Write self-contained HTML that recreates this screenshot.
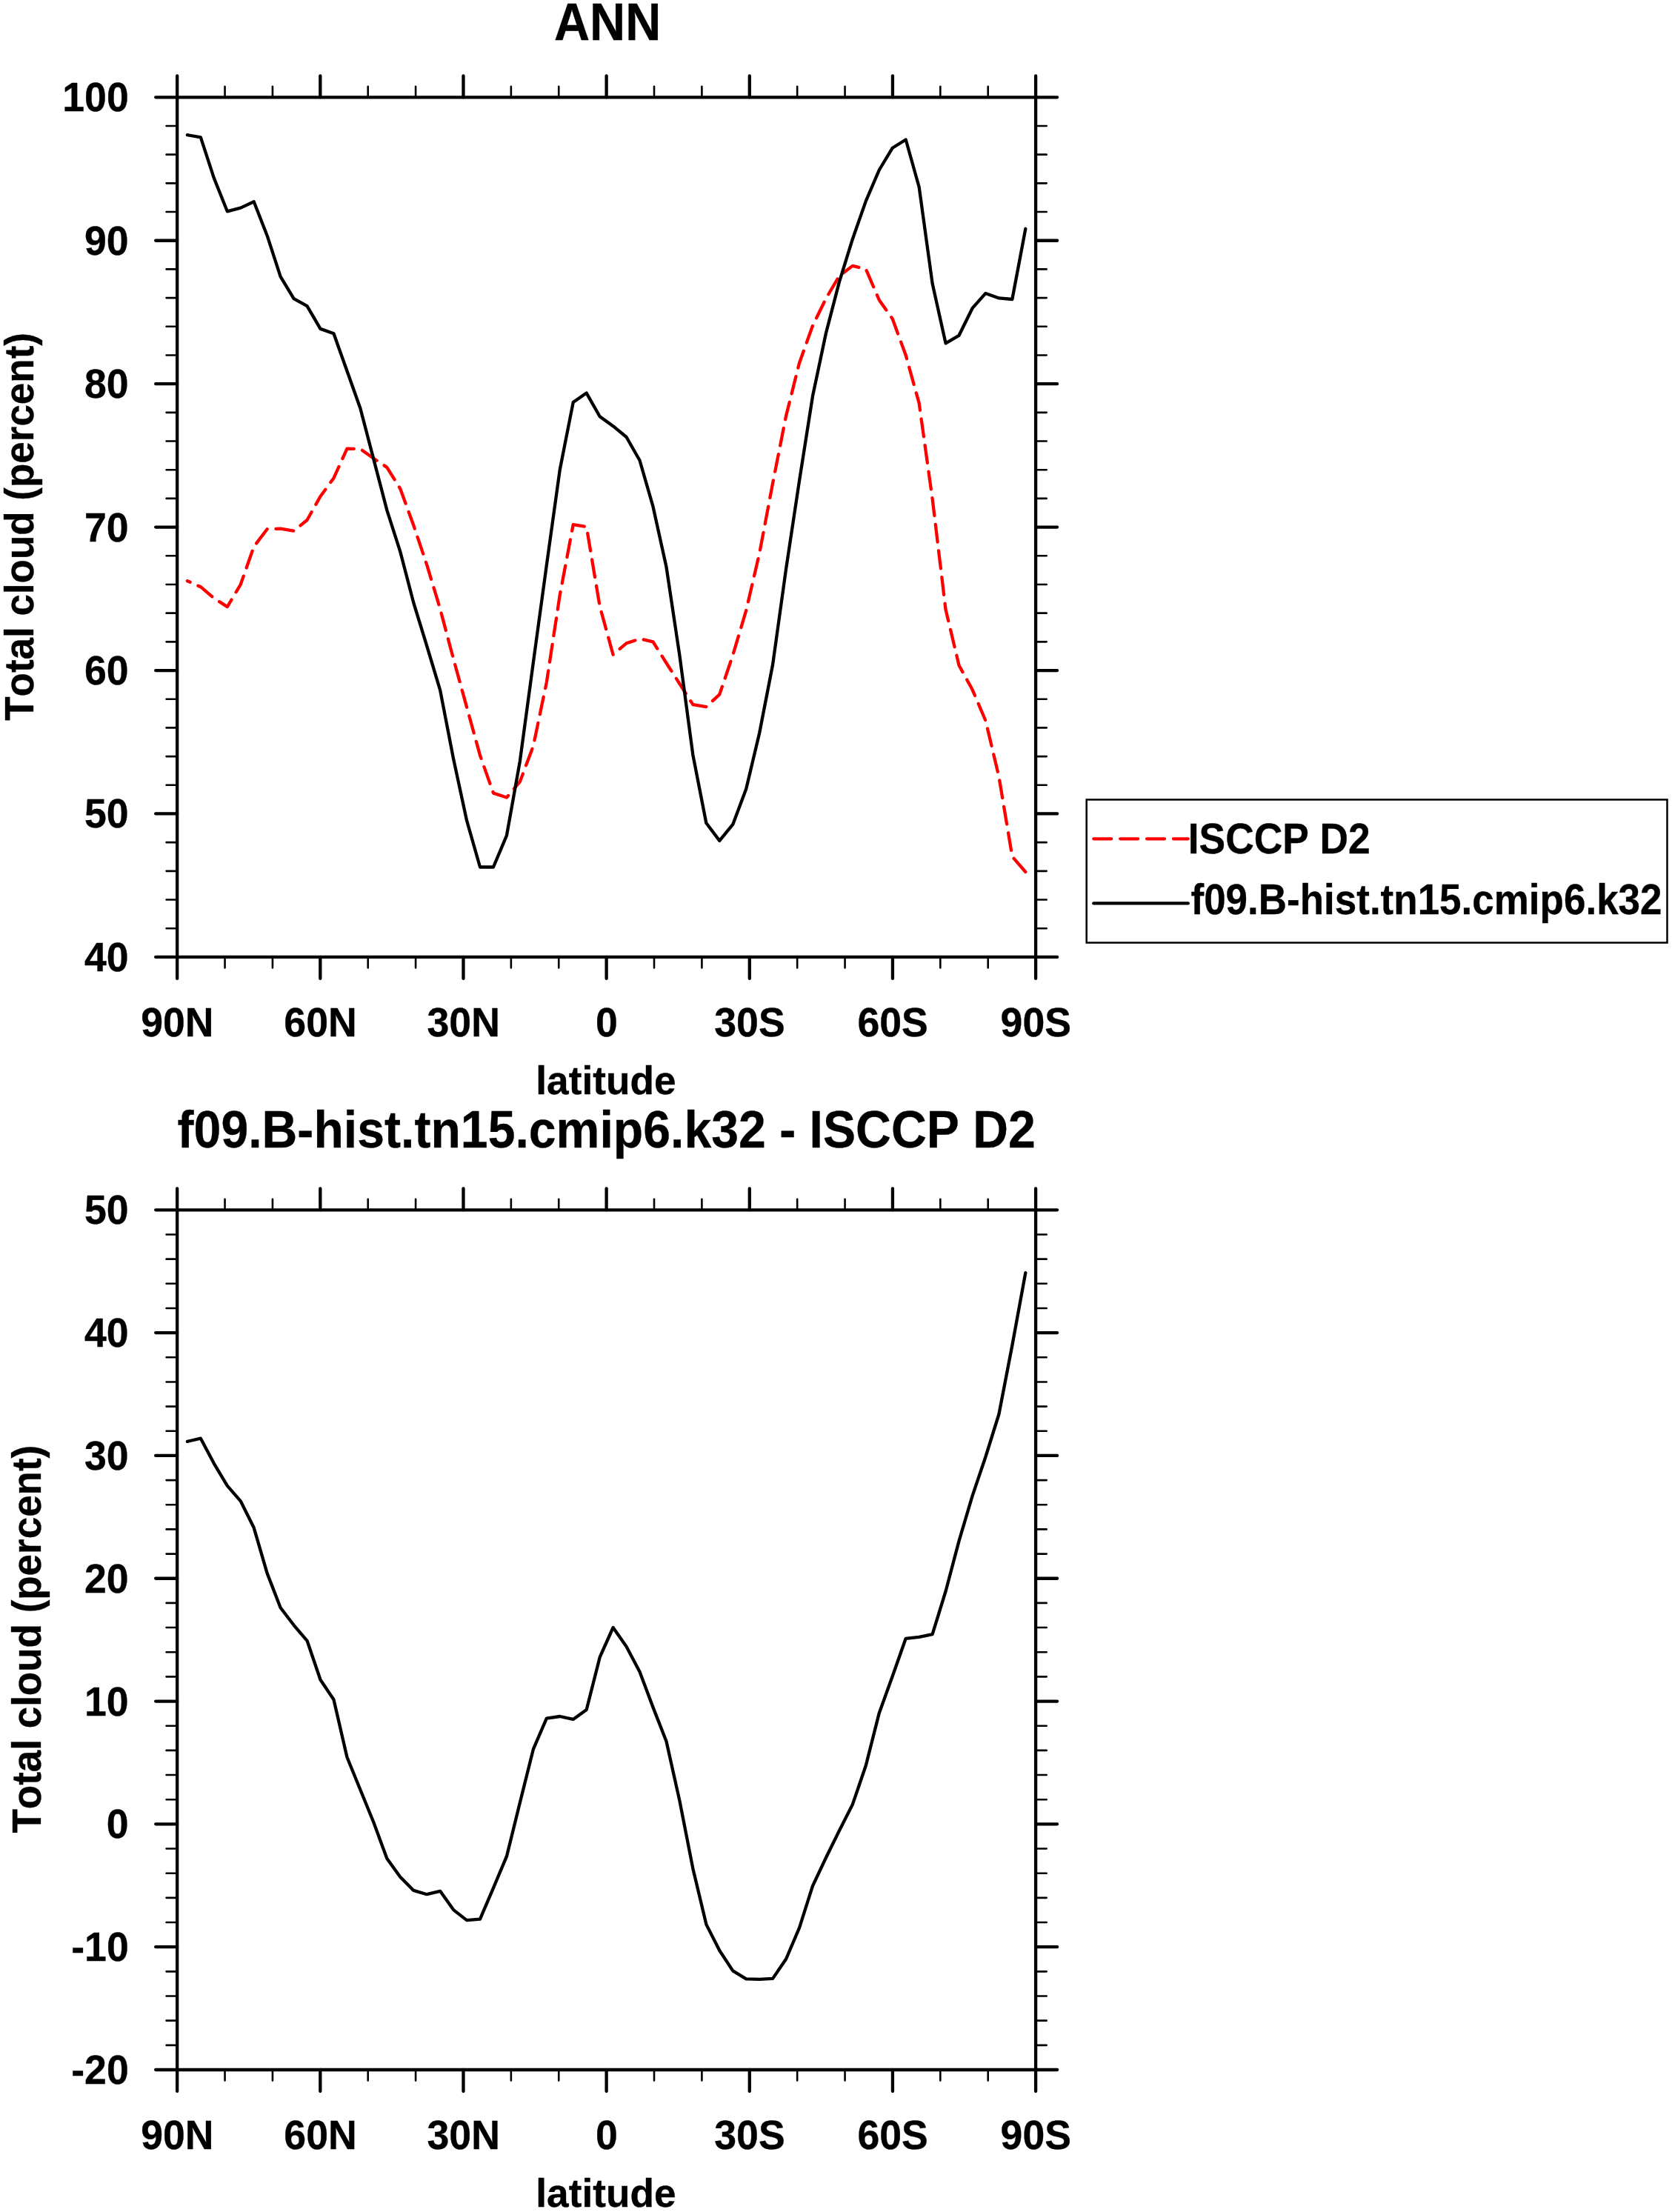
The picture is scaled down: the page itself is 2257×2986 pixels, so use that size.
<!DOCTYPE html>
<html lang="en"><head><meta charset="utf-8"><title>ANN Total cloud (percent)</title>
<style>html,body{margin:0;padding:0;background:#fff;}svg{display:block;}text{font-family:"Liberation Sans",Arial,Helvetica,sans-serif;font-weight:bold;fill:#000;font-kerning:none;stroke:#000;stroke-width:0.35px;}</style>
</head><body>
<svg width="2257" height="2986" viewBox="0 0 2257 2986">
<rect x="0" y="0" width="2257" height="2986" fill="#ffffff"/>
<text transform="translate(820.1,54.1) scale(0.9385,1)" font-size="71" text-anchor="middle">ANN</text>
<g stroke="#000" fill="none" stroke-linecap="round">
<rect x="239.17" y="131.3" width="1158.93" height="1160.6" stroke-width="4.3" stroke-linejoin="round"/>
<path stroke-width="4.3" d="M239.17 131.3V102.3M239.17 1291.9V1320.9M432.32 131.3V102.3M432.32 1291.9V1320.9M625.48 131.3V102.3M625.48 1291.9V1320.9M818.63 131.3V102.3M818.63 1291.9V1320.9M1011.79 131.3V102.3M1011.79 1291.9V1320.9M1204.94 131.3V102.3M1204.94 1291.9V1320.9M1398.1 131.3V102.3M1398.1 1291.9V1320.9M239.17 1291.9H210.17M1398.1 1291.9H1427.1M239.17 1098.47H210.17M1398.1 1098.47H1427.1M239.17 905.03H210.17M1398.1 905.03H1427.1M239.17 711.6H210.17M1398.1 711.6H1427.1M239.17 518.17H210.17M1398.1 518.17H1427.1M239.17 324.73H210.17M1398.1 324.73H1427.1M239.17 131.3H210.17M1398.1 131.3H1427.1"/>
<path stroke-width="2.6" d="M303.55 131.3V116.7M303.55 1291.9V1306.5M367.94 131.3V116.7M367.94 1291.9V1306.5M496.71 131.3V116.7M496.71 1291.9V1306.5M561.09 131.3V116.7M561.09 1291.9V1306.5M689.86 131.3V116.7M689.86 1291.9V1306.5M754.25 131.3V116.7M754.25 1291.9V1306.5M883.02 131.3V116.7M883.02 1291.9V1306.5M947.4 131.3V116.7M947.4 1291.9V1306.5M1076.17 131.3V116.7M1076.17 1291.9V1306.5M1140.56 131.3V116.7M1140.56 1291.9V1306.5M1269.33 131.3V116.7M1269.33 1291.9V1306.5M1333.71 131.3V116.7M1333.71 1291.9V1306.5M239.17 1253.21H224.57M1398.1 1253.21H1412.7M239.17 1214.53H224.57M1398.1 1214.53H1412.7M239.17 1175.84H224.57M1398.1 1175.84H1412.7M239.17 1137.15H224.57M1398.1 1137.15H1412.7M239.17 1059.78H224.57M1398.1 1059.78H1412.7M239.17 1021.09H224.57M1398.1 1021.09H1412.7M239.17 982.41H224.57M1398.1 982.41H1412.7M239.17 943.72H224.57M1398.1 943.72H1412.7M239.17 866.35H224.57M1398.1 866.35H1412.7M239.17 827.66H224.57M1398.1 827.66H1412.7M239.17 788.97H224.57M1398.1 788.97H1412.7M239.17 750.29H224.57M1398.1 750.29H1412.7M239.17 672.91H224.57M1398.1 672.91H1412.7M239.17 634.23H224.57M1398.1 634.23H1412.7M239.17 595.54H224.57M1398.1 595.54H1412.7M239.17 556.85H224.57M1398.1 556.85H1412.7M239.17 479.48H224.57M1398.1 479.48H1412.7M239.17 440.79H224.57M1398.1 440.79H1412.7M239.17 402.11H224.57M1398.1 402.11H1412.7M239.17 363.42H224.57M1398.1 363.42H1412.7M239.17 286.05H224.57M1398.1 286.05H1412.7M239.17 247.36H224.57M1398.1 247.36H1412.7M239.17 208.67H224.57M1398.1 208.67H1412.7M239.17 169.99H224.57M1398.1 169.99H1412.7"/>
</g>
<text transform="translate(239.37,1399.3) scale(0.9525,1)" font-size="56.3" text-anchor="middle">90N</text>
<text transform="translate(432.52,1399.3) scale(0.9525,1)" font-size="56.3" text-anchor="middle">60N</text>
<text transform="translate(625.68,1399.3) scale(0.9525,1)" font-size="56.3" text-anchor="middle">30N</text>
<text transform="translate(818.83,1399.3) scale(0.9525,1)" font-size="56.3" text-anchor="middle">0</text>
<text transform="translate(1011.99,1399.3) scale(0.9525,1)" font-size="56.3" text-anchor="middle">30S</text>
<text transform="translate(1205.14,1399.3) scale(0.9525,1)" font-size="56.3" text-anchor="middle">60S</text>
<text transform="translate(1398.3,1399.3) scale(0.9525,1)" font-size="56.3" text-anchor="middle">90S</text>
<text transform="translate(173.7,1310.9) scale(0.9525,1)" font-size="56.3" text-anchor="end">40</text>
<text transform="translate(173.7,1117.47) scale(0.9525,1)" font-size="56.3" text-anchor="end">50</text>
<text transform="translate(173.7,924.03) scale(0.9525,1)" font-size="56.3" text-anchor="end">60</text>
<text transform="translate(173.7,730.6) scale(0.9525,1)" font-size="56.3" text-anchor="end">70</text>
<text transform="translate(173.7,537.17) scale(0.9525,1)" font-size="56.3" text-anchor="end">80</text>
<text transform="translate(173.7,343.73) scale(0.9525,1)" font-size="56.3" text-anchor="end">90</text>
<text transform="translate(173.7,150.3) scale(0.9525,1)" font-size="56.3" text-anchor="end">100</text>
<text transform="translate(817.9,1477) scale(0.9950,1)" font-size="53.5" text-anchor="middle">latitude</text>
<text transform="translate(44.8,710.95) rotate(-90) scale(0.9561,1)" font-size="55.4" text-anchor="middle">Total cloud (percent)</text>
<path d="M1384.34 1177 L1366.38 1156.3 L1348.42 1048.5 L1330.46 972.9 L1312.5 930.8 L1294.54 898.2 L1276.58 823 L1258.62 673.3 L1240.66 544.2 L1222.71 479.6 L1204.75 430.4 L1186.79 405 L1168.83 363.3 L1150.87 358.9 L1132.91 372.5 L1114.95 403 L1096.99 439.6 L1079.03 490 L1061.08 561.4 L1043.12 652.2 L1025.16 747 L1007.2 824 L989.24 884.5 L971.28 937.4 L953.32 954.1 L935.36 951.2 L917.4 923 L899.44 895 L881.48 866.3 L863.53 862.3 L845.57 868.4 L827.61 883.7 L809.65 818.5 L791.69 711.1 L773.73 708.2 L755.77 803 L737.81 921.1 L719.85 1007.2 L701.89 1055.1 L683.94 1076.5 L665.98 1070.6 L648.02 1019.7 L630.06 954.6 L612.1 889.5 L594.14 822 L576.18 762.4 L558.22 709 L540.26 659.7 L522.3 630.9 L504.35 618.7 L486.39 606 L468.43 605.7 L450.47 645.4 L432.51 670 L414.55 702 L396.59 716.7 L378.63 713.7 L360.67 714.2 L342.71 737.9 L324.76 789 L306.8 819.1 L288.84 807.5 L270.88 792.2 L252.92 784.2" fill="none" stroke="#ff0000" stroke-width="4.3" stroke-linejoin="round" stroke-linecap="round" stroke-dasharray="24 11.9"/>
<path d="M1384.34 308.8 L1366.38 404 L1348.42 402.4 L1330.46 395.9 L1312.5 416.2 L1294.54 452.8 L1276.58 463.4 L1258.62 382.7 L1240.66 252.5 L1222.71 188.5 L1204.75 199.7 L1186.79 229.5 L1168.83 271.4 L1150.87 322.7 L1132.91 380.6 L1114.95 449.8 L1096.99 534.8 L1079.03 649 L1061.08 768 L1043.12 897 L1025.16 989.5 L1007.2 1065.1 L989.24 1112.9 L971.28 1134.9 L953.32 1111 L935.36 1019.1 L917.4 884.7 L899.44 765.1 L881.48 683.7 L863.53 621.5 L845.57 590 L827.61 575.2 L809.65 562.2 L791.69 530.6 L773.73 543.1 L755.77 634 L737.81 763 L719.85 894.5 L701.89 1027.3 L683.94 1127.8 L665.98 1170.5 L648.02 1170.5 L630.06 1107.7 L612.1 1024.4 L594.14 931.6 L576.18 871.9 L558.22 813.5 L540.26 744.6 L522.3 688.6 L504.35 619.9 L486.39 551.2 L468.43 500.7 L450.47 450.2 L432.51 443.9 L414.55 413.1 L396.59 403.2 L378.63 373.3 L360.67 318.2 L342.71 272.2 L324.76 280.6 L306.8 285.3 L288.84 240.4 L270.88 185.3 L252.92 182.2" fill="none" stroke="#000000" stroke-width="4.3" stroke-linejoin="round" stroke-linecap="round"/>
<rect x="1466.7" y="1079.45" width="783.8" height="193.1" fill="none" stroke="#000" stroke-width="2.5"/>
<path d="M1476.25 1132.3H1603.85" fill="none" stroke="#ff0000" stroke-width="4.3" stroke-linecap="round" stroke-dasharray="24 11.9"/>
<path d="M1476.25 1219.4H1603.85" fill="none" stroke="#000" stroke-width="4.3" stroke-linecap="round"/>
<text transform="translate(1603.75,1152) scale(0.9328,1)" font-size="57.2" text-anchor="start">ISCCP D2</text>
<text transform="translate(1607.5,1233.5) scale(0.9265,1)" font-size="57.2" text-anchor="start">f09.B-hist.tn15.cmip6.k32</text>
<text transform="translate(818.65,1549.2) scale(0.9427,1)" font-size="70.2" text-anchor="middle">f09.B-hist.tn15.cmip6.k32 - ISCCP D2</text>
<g stroke="#000" fill="none" stroke-linecap="round">
<rect x="239.17" y="1633.3" width="1158.93" height="1160.7" stroke-width="4.3" stroke-linejoin="round"/>
<path stroke-width="4.3" d="M239.17 1633.3V1604.3M239.17 2794V2823M432.32 1633.3V1604.3M432.32 2794V2823M625.48 1633.3V1604.3M625.48 2794V2823M818.63 1633.3V1604.3M818.63 2794V2823M1011.79 1633.3V1604.3M1011.79 2794V2823M1204.94 1633.3V1604.3M1204.94 2794V2823M1398.1 1633.3V1604.3M1398.1 2794V2823M239.17 2794H210.17M1398.1 2794H1427.1M239.17 2628.19H210.17M1398.1 2628.19H1427.1M239.17 2462.37H210.17M1398.1 2462.37H1427.1M239.17 2296.56H210.17M1398.1 2296.56H1427.1M239.17 2130.74H210.17M1398.1 2130.74H1427.1M239.17 1964.93H210.17M1398.1 1964.93H1427.1M239.17 1799.11H210.17M1398.1 1799.11H1427.1M239.17 1633.3H210.17M1398.1 1633.3H1427.1"/>
<path stroke-width="2.6" d="M303.55 1633.3V1618.7M303.55 2794V2808.6M367.94 1633.3V1618.7M367.94 2794V2808.6M496.71 1633.3V1618.7M496.71 2794V2808.6M561.09 1633.3V1618.7M561.09 2794V2808.6M689.86 1633.3V1618.7M689.86 2794V2808.6M754.25 1633.3V1618.7M754.25 2794V2808.6M883.02 1633.3V1618.7M883.02 2794V2808.6M947.4 1633.3V1618.7M947.4 2794V2808.6M1076.17 1633.3V1618.7M1076.17 2794V2808.6M1140.56 1633.3V1618.7M1140.56 2794V2808.6M1269.33 1633.3V1618.7M1269.33 2794V2808.6M1333.71 1633.3V1618.7M1333.71 2794V2808.6M239.17 2760.84H224.57M1398.1 2760.84H1412.7M239.17 2727.67H224.57M1398.1 2727.67H1412.7M239.17 2694.51H224.57M1398.1 2694.51H1412.7M239.17 2661.35H224.57M1398.1 2661.35H1412.7M239.17 2595.02H224.57M1398.1 2595.02H1412.7M239.17 2561.86H224.57M1398.1 2561.86H1412.7M239.17 2528.7H224.57M1398.1 2528.7H1412.7M239.17 2495.53H224.57M1398.1 2495.53H1412.7M239.17 2429.21H224.57M1398.1 2429.21H1412.7M239.17 2396.05H224.57M1398.1 2396.05H1412.7M239.17 2362.88H224.57M1398.1 2362.88H1412.7M239.17 2329.72H224.57M1398.1 2329.72H1412.7M239.17 2263.39H224.57M1398.1 2263.39H1412.7M239.17 2230.23H224.57M1398.1 2230.23H1412.7M239.17 2197.07H224.57M1398.1 2197.07H1412.7M239.17 2163.91H224.57M1398.1 2163.91H1412.7M239.17 2097.58H224.57M1398.1 2097.58H1412.7M239.17 2064.42H224.57M1398.1 2064.42H1412.7M239.17 2031.25H224.57M1398.1 2031.25H1412.7M239.17 1998.09H224.57M1398.1 1998.09H1412.7M239.17 1931.77H224.57M1398.1 1931.77H1412.7M239.17 1898.6H224.57M1398.1 1898.6H1412.7M239.17 1865.44H224.57M1398.1 1865.44H1412.7M239.17 1832.28H224.57M1398.1 1832.28H1412.7M239.17 1765.95H224.57M1398.1 1765.95H1412.7M239.17 1732.79H224.57M1398.1 1732.79H1412.7M239.17 1699.63H224.57M1398.1 1699.63H1412.7M239.17 1666.46H224.57M1398.1 1666.46H1412.7"/>
</g>
<text transform="translate(239.37,2901.4) scale(0.9525,1)" font-size="56.3" text-anchor="middle">90N</text>
<text transform="translate(432.52,2901.4) scale(0.9525,1)" font-size="56.3" text-anchor="middle">60N</text>
<text transform="translate(625.68,2901.4) scale(0.9525,1)" font-size="56.3" text-anchor="middle">30N</text>
<text transform="translate(818.83,2901.4) scale(0.9525,1)" font-size="56.3" text-anchor="middle">0</text>
<text transform="translate(1011.99,2901.4) scale(0.9525,1)" font-size="56.3" text-anchor="middle">30S</text>
<text transform="translate(1205.14,2901.4) scale(0.9525,1)" font-size="56.3" text-anchor="middle">60S</text>
<text transform="translate(1398.3,2901.4) scale(0.9525,1)" font-size="56.3" text-anchor="middle">90S</text>
<text transform="translate(173.7,2813) scale(0.9525,1)" font-size="56.3" text-anchor="end">-20</text>
<text transform="translate(173.7,2647.19) scale(0.9525,1)" font-size="56.3" text-anchor="end">-10</text>
<text transform="translate(173.7,2481.37) scale(0.9525,1)" font-size="56.3" text-anchor="end">0</text>
<text transform="translate(173.7,2315.56) scale(0.9525,1)" font-size="56.3" text-anchor="end">10</text>
<text transform="translate(173.7,2149.74) scale(0.9525,1)" font-size="56.3" text-anchor="end">20</text>
<text transform="translate(173.7,1983.93) scale(0.9525,1)" font-size="56.3" text-anchor="end">30</text>
<text transform="translate(173.7,1818.11) scale(0.9525,1)" font-size="56.3" text-anchor="end">40</text>
<text transform="translate(173.7,1652.3) scale(0.9525,1)" font-size="56.3" text-anchor="end">50</text>
<text transform="translate(817.9,2979.1) scale(0.9950,1)" font-size="53.5" text-anchor="middle">latitude</text>
<text transform="translate(54.8,2212.65) rotate(-90) scale(0.9561,1)" font-size="55.4" text-anchor="middle">Total cloud (percent)</text>
<path d="M1384.34 1718.1 L1366.38 1816 L1348.42 1909 L1330.46 1966.5 L1312.5 2019.6 L1294.54 2080.1 L1276.58 2148 L1258.62 2206.2 L1240.66 2209.8 L1222.71 2211.8 L1204.75 2262.8 L1186.79 2312.4 L1168.83 2383.3 L1150.87 2435.9 L1132.91 2471.3 L1114.95 2507.7 L1096.99 2545.9 L1079.03 2602.4 L1061.08 2644.5 L1043.12 2670.9 L1025.16 2671.9 L1007.2 2671.3 L989.24 2660.4 L971.28 2633 L953.32 2597.6 L935.36 2522.4 L917.4 2430.9 L899.44 2350.5 L881.48 2304.6 L863.53 2256.7 L845.57 2222.7 L827.61 2197 L809.65 2237.2 L791.69 2308 L773.73 2320.9 L755.77 2317 L737.81 2319.7 L719.85 2361.4 L701.89 2433.2 L683.94 2505.9 L665.98 2548.6 L648.02 2590.7 L630.06 2592.1 L612.1 2578.1 L594.14 2552.8 L576.18 2557.2 L558.22 2551.9 L540.26 2533.7 L522.3 2508.8 L504.35 2460 L486.39 2416 L468.43 2372 L450.47 2294.3 L432.51 2267.5 L414.55 2214.8 L396.59 2193.8 L378.63 2170.2 L360.67 2123.9 L342.71 2062.3 L324.76 2026.3 L306.8 2005.6 L288.84 1975.6 L270.88 1941.7 L252.92 1945.9" fill="none" stroke="#000000" stroke-width="4.3" stroke-linejoin="round" stroke-linecap="round"/>
</svg>
</body></html>
